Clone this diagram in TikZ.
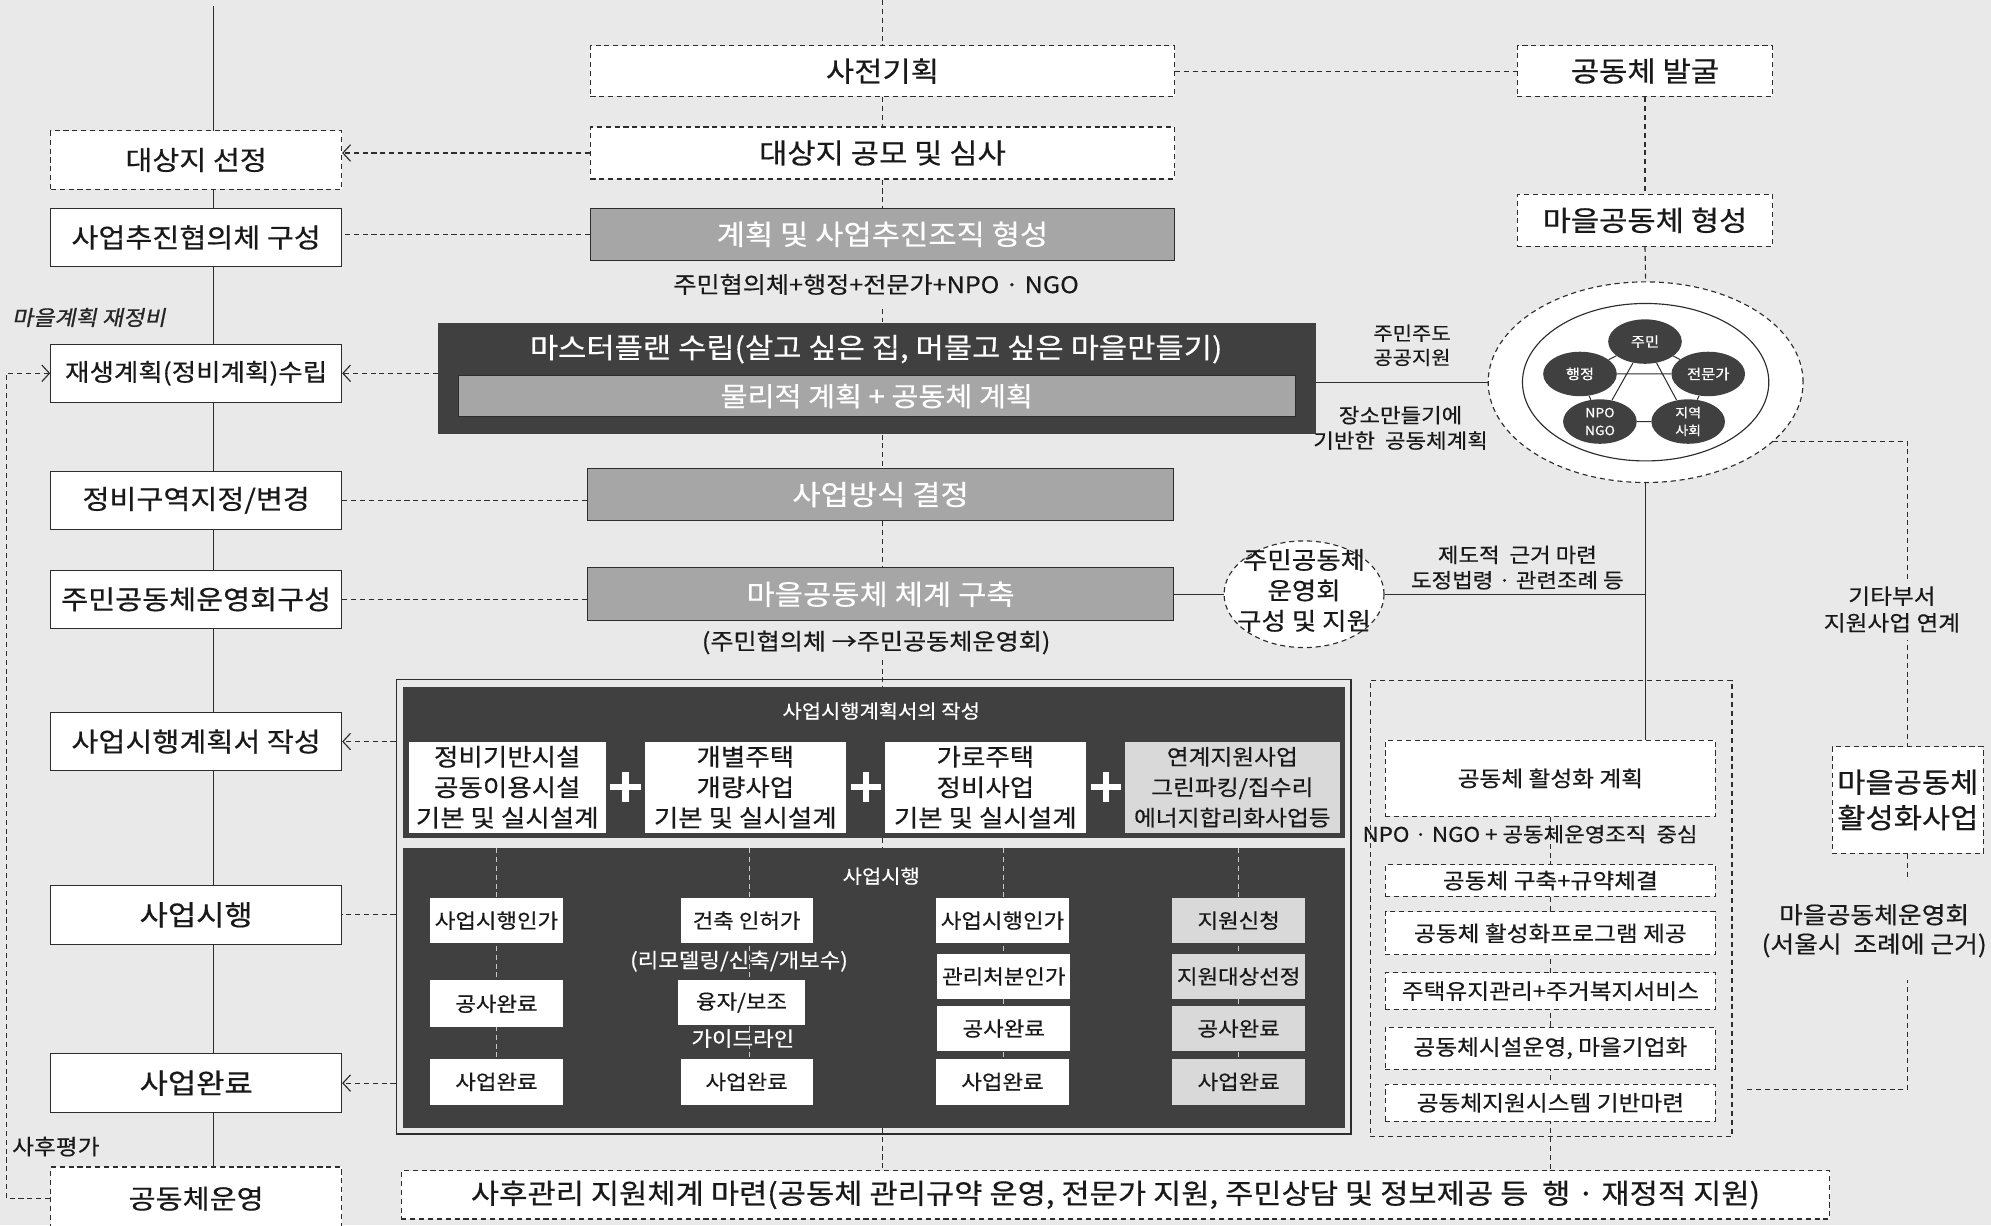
\documentclass[tikz,border=0pt]{standalone}
\usepackage{fontspec}
\setmainfont[FakeStretch=1.1,FakeBold=0.5]{Noto Sans CJK KR}
\newfontfamily\krit[FakeSlant=0.2,FakeStretch=1.1,FakeBold=0.8]{Noto Sans CJK KR}
\usetikzlibrary{arrows.meta,shapes.geometric,calc}
\definecolor{bgc}{RGB}{233,233,233}
\definecolor{darkc}{RGB}{64,64,64}
\definecolor{grayc}{RGB}{166,166,166}
\definecolor{lgrayc}{RGB}{217,217,217}
\definecolor{linec}{RGB}{45,45,45}
\definecolor{colw}{RGB}{200,200,200}
\newcommand{\fsz}[2]{\fontsize{#1}{#2}\selectfont}
\pgfdeclarelayer{back}
\pgfdeclarelayer{panels}
\pgfdeclarelayer{lines}
\pgfsetlayers{back,panels,lines,main}
\tikzset{
  lbl/.style={inner sep=0pt, align=center, text=black!90},
  boxbase/.style={inner sep=0pt, align=center, line width=0.9pt, draw=linec, text=black!90},
  wsolid/.style={boxbase, fill=white},
  wdash/.style={boxbase, fill=white, dash pattern=on 4pt off 3pt},
  graybox/.style={boxbase, fill=grayc, text=white},
  darkpanel/.style={inner sep=0pt, fill=darkc, draw=none},
  con/.style={draw=linec, line width=0.9pt},
  dcon/.style={draw=linec, line width=0.9pt, dash pattern=on 4pt off 3pt},
  dcolw/.style={draw=colw, line width=0.8pt, dash pattern=on 4pt off 3pt},
  arr/.style={-{Straight Barb[length=6pt,width=13pt]}},
  lcol/.style={minimum width=229pt, minimum height=46pt, font=\fsz{21}{25}},
  ccol/.style={minimum width=460pt, minimum height=41pt, font=\fsz{22}{26}},
  pbox/.style={inner sep=0pt, align=center, fill=white, text=black!90, minimum height=72pt, font=\fsz{19}{24}},
  sbox/.style={inner sep=0pt, align=center, fill=white, text=black!90, minimum width=105pt, minimum height=36pt, font=\fsz{16}{19}},
  gbox/.style={sbox, fill=lgrayc},
  sell/.style={ellipse, fill=darkc, inner sep=0pt, minimum width=58pt, minimum height=35pt, text=white, align=center, font=\fsz{11}{13}},
  gsm/.style={wdash, minimum width=260pt, font=\fsz{17}{20}},
}
\begin{document}
\begin{tikzpicture}[x=1pt,y=-1pt]
\useasboundingbox (0,0) rectangle (1568,965);
\begin{pgfonlayer}{back}
\fill[bgc] (0,0) rectangle (1568,965);
\end{pgfonlayer}
\clip (0,0) rectangle (1568,965);

\coordinate (spT) at (168,5);
\coordinate (ctT) at (695,0);
\coordinate (loopc) at (5,0);
\coordinate (kk) at (1375,858);
\coordinate (colb) at (590.5,0);
\coordinate (colc) at (790.5,0);

% ---------- left column ----------
\node[wdash, lcol] (L1) at (154.5,126) {대상지 선정};
\node[wsolid, lcol] (L2) at (154.5,187) {사업추진협의체 구성};
\node[wsolid, lcol, font=\fsz{19}{24}] (L3) at (154.5,294) {재생계획(정비계획)수립};
\node[wsolid, lcol] (L4) at (154.5,394) {정비구역지정/변경};
\node[wsolid, lcol] (L5) at (154.5,472) {주민공동체운영회구성};
\node[wsolid, lcol] (L6) at (154.5,584) {사업시행계획서 작성};
\node[wsolid, lcol, font=\fsz{22}{26}] (L7) at (154.5,720.5) {사업시행};
\node[wsolid, lcol, font=\fsz{22}{26}] (L8) at (154.5,853) {사업완료};
\node[wdash, lcol, minimum height=50pt] (L9) at (154.5,944) {공동체운영};
\node[lbl, font=\krit\fsz{16.5}{19}, text=black!85] (lbA) at (70,250) {마을계획 재정비};
\node[lbl, font=\fsz{17}{19}] (lbB) at (44,903) {사후평가};

% ---------- center column ----------
\node[wdash, ccol, minimum height=40pt] (C1) at (695,56) {사전기획};
\node[wdash, ccol] (C2) at (695,120.5) {대상지 공모 및 심사};
\node[graybox, ccol] (C3) at (695,184.5) {계획 및 사업추진조직 형성};
\node[lbl, font=\fsz{18}{20}, inner ysep=11pt] (C3L) at (690,224) {주민협의체+행정+전문가+NPO · NGO};
\node[darkpanel, minimum width=691pt, minimum height=88pt] (C4) at (690.5,298) {};
\node[lbl, text=white, font=\fsz{22}{26}] (C4t) at (690,275) {마스터플랜 수립(살고 싶은 집, 머물고 싶은 마을만들기)};
\node[graybox, minimum width=659pt, minimum height=32pt, font=\fsz{21}{25}] (C4b) at (690.5,312) {물리적 계획 + 공동체 계획};
\node[graybox, ccol, minimum width=461pt] (C5) at (693.5,389.5) {사업방식 결정};
\node[graybox, ccol, minimum width=461pt, minimum height=42pt] (C6) at (693.5,468) {마을공동체 체계 구축};
\node[lbl, font=\fsz{18}{22}, inner ysep=4pt] (C6L) at (690,506) {(주민협의체 →주민공동체운영회)};

% ---------- big box ----------
\begin{pgfonlayer}{panels}
\node[draw=linec, line width=1pt, minimum width=752pt, minimum height=358pt, inner sep=0pt] (BX) at (688,714) {};
\node[darkpanel, minimum width=742pt, minimum height=119pt] (P1) at (688,600.5) {};
\node[darkpanel, minimum width=742pt, minimum height=220pt] (P2) at (688,778) {};
\end{pgfonlayer}
\node[lbl, text=white, font=\fsz{15}{18}] (P1t) at (694,560) {사업시행계획서의 작성};
\node[pbox, minimum width=155pt] (B1) at (399.5,620) {정비기반시설\\공동이용시설\\기본 및 실시설계};
\node[pbox, minimum width=158pt] (B2) at (587,620) {개별주택\\개량사업\\기본 및 실시설계};
\node[pbox, minimum width=158pt] (B3) at (776,620) {가로주택\\정비사업\\기본 및 실시설계};
\node[pbox, minimum width=169pt, fill=lgrayc, font=\fsz{17}{24}] (B4) at (970.5,620) {연계지원사업\\그린파킹/집수리\\에너지합리화사업등};
\coordinate (pl1) at (492.5,620);
\coordinate (pl2) at (682,620);
\coordinate (pl3) at (871,620);
\foreach \p in {pl1,pl2,pl3}{
  \draw[white, line width=5pt] (\p) ++(-12,0) -- ++(24,0);
  \draw[white, line width=5pt] (\p) ++(0,-12) -- ++(0,24);
}
\node[lbl, text=white, font=\fsz{15}{18}] (P2t) at (694,690) {사업시행};
\node[sbox] (a1) at (391,725) {사업시행인가};
\node[sbox, minimum height=37pt] (a2) at (391,790.5) {공사완료};
\node[sbox] (a3) at (391,852) {사업완료};
\node[sbox, minimum width=104pt] (b1) at (588,725) {건축 인허가};
\node[lbl, text=white, font=\fsz{16}{19}] (bL1) at (582,757) {(리모델링/신축/개보수)};
\node[sbox, minimum width=100pt, minimum height=35pt] (b2) at (584,789.5) {융자/보조};
\node[lbl, text=white, font=\fsz{16}{19}] (bL2) at (585,818) {가이드라인};
\node[sbox, minimum width=104pt] (b3) at (588,852) {사업완료};
\node[sbox] (c1) at (789.5,725) {사업시행인가};
\node[sbox] (c2) at (790.5,769) {관리처분인가};
\node[sbox] (c3) at (790.5,810) {공사완료};
\node[sbox] (c4) at (789.5,852) {사업완료};
\node[gbox] (d1) at (975.5,725) {지원신청};
\node[gbox] (d2) at (975.5,769) {지원대상선정};
\node[gbox] (d3) at (975.5,810) {공사완료};
\node[gbox] (d4) at (975.5,852) {사업완료};

% ---------- bottom ----------
\node[wdash, minimum width=1125pt, minimum height=38pt, font=\fsz{22}{26}] (S) at (878.5,941) {사후관리 지원체계 마련(공동체 관리규약 운영, 전문가 지원, 주민상담 및 정보제공 등\ \ 행 · 재정적 지원)};

% ---------- right ----------
\node[wdash, minimum width=201pt, minimum height=40pt, font=\fsz{22}{26}] (R1) at (1295.5,56) {공동체 발굴};
\node[wdash, minimum width=201pt, minimum height=41pt, font=\fsz{22}{26}] (R2) at (1295.5,173.5) {마을공동체 형성};
\begin{pgfonlayer}{panels}
\node[ellipse, draw=linec, line width=0.9pt, dash pattern=on 4pt off 3pt, fill=white, minimum width=248pt, minimum height=158pt, inner sep=0pt] (Eo) at (1296,301) {};
\node[ellipse, draw=linec, line width=0.9pt, minimum width=194pt, minimum height=124pt, inner sep=0pt] (Ei) at (1296,301) {};
\end{pgfonlayer}
\node[sell] (k1) at (1295.5,269) {주민};
\node[sell] (k2) at (1244.3,294.5) {행정};
\node[sell] (k3) at (1345.3,294.5) {전문가};
\node[sell, font=\fsz{10}{14}] (k4) at (1260,332) {NPO\\NGO};
\node[sell, font=\fsz{10}{14}] (k5) at (1329.5,332) {지역\\사회};
\node[lbl, font=\fsz{15}{19}] (t1) at (1112,272) {주민주도\\공공지원};
\node[lbl, font=\fsz{16}{20}] (t2) at (1103,337) {장소만들기에\\기반한\ \ 공동체계획};
\node[ellipse, draw=linec, line width=0.9pt, dash pattern=on 4pt off 3pt, fill=white, minimum width=126pt, minimum height=84pt, inner sep=0pt] (M) at (1027,468) {};
\node[lbl, font=\fsz{19}{24}] (Mt) at (1027,465) {주민공동체\\운영회\\구성 및 지원};
\node[lbl, font=\fsz{16}{20}] (t3) at (1195,447) {제도적\ \ 근거 마련\\도정법령 · 관련조례 등};
\node[wdash, minimum width=119pt, minimum height=84pt, font=\fsz{22}{28}] (H) at (1502.5,630) {마을공동체\\활성화사업};
\node[lbl, fill=bgc, inner sep=6pt, font=\fsz{17}{21}] (t4) at (1490,480) {기타부서\\지원사업 연계};
\node[lbl, fill=bgc, inner xsep=4pt, inner ysep=18pt, font=\fsz{18.5}{23}] (t5) at (1476,733) {마을공동체운영회\\(서울시\ \ 조례에 근거)};

\node[draw=linec, line width=0.9pt, dash pattern=on 4pt off 3pt, minimum width=285pt, minimum height=359pt, inner sep=0pt] (G) at (1221.5,715.5) {};
\node[gsm, minimum height=60pt] (G1) at (1221,613) {공동체 활성화 계획};
\node[lbl, font=\fsz{16}{20}] (GL) at (1205,657) {NPO · NGO + 공동체운영조직\ \ 중심};
\node[gsm, minimum height=25pt] (G2) at (1221,693.5) {공동체 구축+규약체결};
\node[gsm, minimum height=34pt] (G3) at (1221,735) {공동체 활성화프로그램 제공};
\node[gsm, minimum height=29pt] (G4) at (1221,780.5) {주택유지관리+주거복지서비스};
\node[gsm, minimum height=33pt] (G5) at (1221,825.5) {공동체시설운영, 마을기업화};
\node[gsm, minimum height=29pt] (G6) at (1221,868.5) {공동체지원시스템 기반마련};

% ---------- connectors ----------
\begin{pgfonlayer}{lines}
\draw[con] (spT) -- (spT |- L9.north);
\draw[dcon] (ctT) -- (ctT |- C1.north);
\draw[dcon] (ctT |- C1.south) -- (ctT |- C2.north);
\draw[dcon] (ctT |- C2.south) -- (ctT |- C3.north);
\draw[dcon] (ctT |- C3L.south) -- (ctT |- C4.north);
\draw[dcon] (ctT |- C4.south) -- (ctT |- C5.north);
\draw[dcon] (ctT |- C5.south) -- (ctT |- C6.north);
\draw[dcon] (ctT |- C6L.south) -- (ctT |- P1.north);
\draw[dcon] (ctT |- P1.south) -- (ctT |- P2.north);
\draw[dcon] (ctT |- P2.south) -- (ctT |- S.north);
\draw[dcon, arr] (C2.west) -- (C2.west -| L1.east);
\draw[dcon] (C3.west) -- (C3.west -| L2.east);
\draw[dcon, arr] (L3.east -| C4.west) -- (L3.east);
\draw[dcon] (L4.east -| C5.west) -- (L4.east);
\draw[dcon] (L5.east -| C6.west) -- (L5.east);
\draw[dcon, arr] (L6.east -| BX.west) -- (L6.east);
\draw[dcon] (L7.east -| BX.west) -- (L7.east);
\draw[dcon, arr] (L8.east -| BX.west) -- (L8.east);
\draw[dcon, arr] (L9.west) -- (L9.west -| loopc) |- (L3.west);
\draw[dcon] (C1.east) -- (R1.west);
\draw[dcon] (R1.south) -- (R2.north);
\draw[dcon] (R2.south) -- (Eo.north);
\draw[con] (C4.east |- Eo.west) -- (Eo.west);
\draw[con] (Eo.south) -- (Eo.south |- G1.north);
\draw[con] (C6.east) -- (M.west);
\draw[con] (M.east) -- (M.east -| Eo.south);
\draw[dcon] (Eo.-25) -| (H.north);
\draw[dcon] (H.south) |- (kk);
\draw[dcon] (G1.south) -- (G1.south |- S.north);
\draw[con, line width=0.8pt] (k2) -- (k3) (k1) -- (k4) (k1) -- (k5) (k4) -- (k5)
  (k1) -- (k2) (k1) -- (k3) (k2) -- (k4) (k3) -- (k5);
\draw[dcolw] (a1 |- P2.north) -- (a3.north);
\draw[dcolw] (colb |- P2.north) -- (colb |- b3.north);
\draw[dcolw] (colc |- P2.north) -- (colc |- c4.north);
\draw[dcolw] (d1 |- P2.north) -- (d4.north);
\end{pgfonlayer}
\end{tikzpicture}
\end{document}
